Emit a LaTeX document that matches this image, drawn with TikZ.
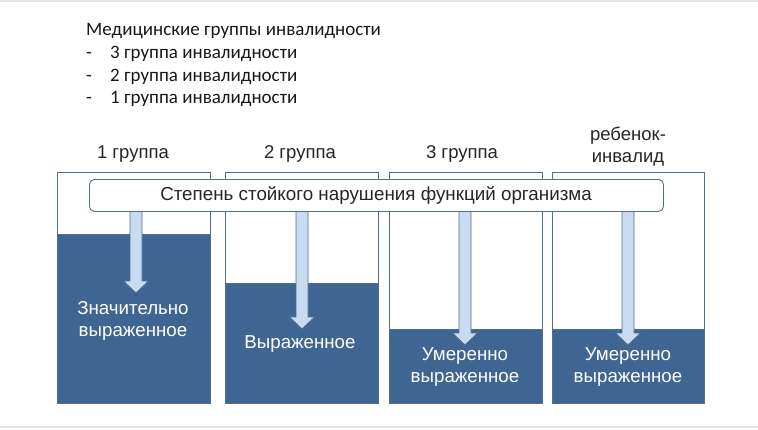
\documentclass[tikz,border=0pt]{standalone}
\usepackage{fontspec}
\setmainfont{Liberation Sans}
\newfontfamily\calib{Carlito}
\begin{document}
\begin{tikzpicture}[x=1pt,y=-1pt]
\definecolor{darkfill}{HTML}{3F6592}
\definecolor{edge}{HTML}{4F6F96}
\definecolor{lightarrow}{HTML}{C9DBF1}
\definecolor{slidegray}{HTML}{E6E6E6}
\tikzset{
  colbox/.style={draw=edge, line width=0.9pt, fill=white, anchor=north west, inner sep=0pt},
  darkbox/.style={draw=edge, line width=0.9pt, fill=darkfill, anchor=north west, inner sep=0pt},
  head/.style={font=\fontsize{18.5}{22}\selectfont, align=center, text=black!85},
  inlabel/.style={font=\fontsize{18.7}{22}\selectfont, align=center, text=white},
  banner/.style={draw=edge, line width=0.9pt, fill=white, rounded corners=5pt, inner sep=0pt,
     minimum width=574pt, minimum height=32pt, anchor=north west},
  arrowbody/.style={draw=edge, line width=0.8pt, fill=lightarrow, line join=miter},
  toptext/.style={font=\calib\fontsize{19}{22}\selectfont, anchor=west, inner sep=0pt, text=black!90}
}
\useasboundingbox (0,0) rectangle (758,429);
\fill[white] (0,0) rectangle (758,429);
\draw[slidegray, line width=1.5pt] (0,1) -- (758,1);
\draw[slidegray, line width=2pt] (0,427) -- (758,427);

% top text
\node[toptext] (t0) at (86,31) {Медицинские группы инвалидности};
\node[toptext] (d1) at (86,55) {-};
\node[toptext] (t1) at (110,54) {3 группа инвалидности};
\node[toptext] (d2) at (86,78) {-};
\node[toptext] (t2) at (110,77) {2 группа инвалидности};
\node[toptext] (d3) at (86,100) {-};
\node[toptext] (t3) at (110,99) {1 группа инвалидности};

% columns
\node[colbox, minimum width=153pt, minimum height=231pt] (c1) at (57,172) {};
\node[colbox, minimum width=153pt, minimum height=231pt] (c2) at (225,172) {};
\node[colbox, minimum width=153pt, minimum height=231pt] (c3) at (389,172) {};
\node[colbox, minimum width=152pt, minimum height=231pt] (c4) at (552,172) {};

\node[darkbox, minimum width=153pt, minimum height=169pt] (f1) at (57,234) {};
\node[darkbox, minimum width=153pt, minimum height=120pt] (f2) at (225,283) {};
\node[darkbox, minimum width=153pt, minimum height=74pt] (f3) at (389,329) {};
\node[darkbox, minimum width=152pt, minimum height=74pt] (f4) at (552,329) {};

% headings
\node[head] (h1) at (133,154) {1 группа};
\node[head] (h2) at (300,154) {2 группа};
\node[head] (h3) at (462,154) {3 группа};
\node[head, font=\fontsize{18.5}{22}\selectfont] (h4) at (628,147) {ребенок-\\инвалид};

% arrows
\newcommand{\blockarrow}[3]{%
  \draw[arrowbody] (#1-6,#2) -- (#1-6,#3-12) -- (#1-12.5,#3-12) -- (#1,#3) -- (#1+12.5,#3-12) -- (#1+6,#3-12) -- (#1+6,#2) -- cycle;}
\blockarrow{136}{205}{293}
\blockarrow{302}{205}{329}
\blockarrow{465}{205}{345}
\blockarrow{628}{205}{345}

% banner
\node[banner] (b) at (89,179) {};
\node[font=\fontsize{18.8}{22}\selectfont, text=black!85] (bt) at (376,195.5) {Степень стойкого нарушения функций организма};

% labels
\node[inlabel] (l1) at (133,321) {Значительно\\выраженное};
\node[inlabel] (l2) at (300,344) {Выраженное};
\node[inlabel] (l3) at (465,367) {Умеренно\\выраженное};
\node[inlabel] (l4) at (628,367) {Умеренно\\выраженное};
\end{tikzpicture}
\end{document}
